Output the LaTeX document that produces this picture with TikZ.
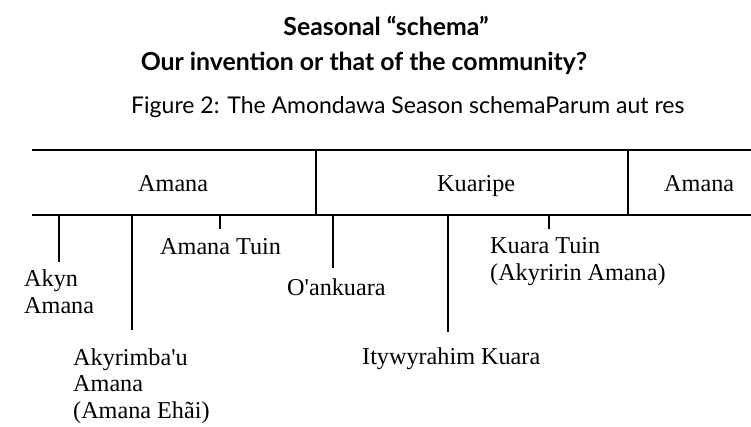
\documentclass[tikz,border=0pt]{standalone}
\usepackage{fontspec}
\setmainfont{Liberation Serif}
\newfontfamily\titlefont{Lato}
\begin{document}
\begin{tikzpicture}[x=1pt,y=-1pt,
  barln/.style={line width=2.3pt},
  tickln/.style={line width=2.2pt},
  lbl/.style={anchor=base west,inner sep=0pt,font=\fontsize{24.2}{26.5}\selectfont,align=left},
  ttl/.style={anchor=base,inner sep=0pt,font=\titlefont\bfseries\fontsize{24.8}{28}\selectfont},
  captxt/.style={anchor=base west,inner sep=0pt,font=\titlefont\fontsize{23}{26}\selectfont}]
\useasboundingbox (0,0) rectangle (751,426);
% titles
\node[ttl] (t1) at (386,35) {Seasonal “schema”};
\node[ttl] (t2) at (364,70) {Our invention or that of the community?};
\node[captxt] (cp) at (131,113) {Figure 2: The Amondawa Season schemaParum aut res};
% timeline
\draw[barln] (32,150) -- (751,150);
\draw[barln] (32,215) -- (751,215);
\draw[tickln] (316,150) -- (316,215);
\draw[tickln] (628,150) -- (628,215);
\node[lbl] (s1) at (138,191) {Amana};
\node[lbl] (s2) at (437,191) {Kuaripe};
\node[lbl] (s3) at (664,191) {Amana};
% ticks
\coordinate (k1) at (59,262);
\coordinate (k2) at (132,330);
\coordinate (k3) at (220,229);
\coordinate (k4) at (333,268);
\coordinate (k5) at (448,332);
\coordinate (k6) at (549,229);
\foreach \k in {k1,k2,k3,k4,k5,k6}
  \draw[tickln] (\k |- 0,215) -- (\k);
% labels (base anchor = last line's baseline)
\node[lbl] (a1) at (24,313) {Akyn\\Amana};
\node[lbl] (a2) at (73,418) {Akyrimba\textquotesingle u\\Amana\\(Amana Ehãi)};
\node[lbl] (a3) at (160,254) {Amana Tuin};
\node[lbl] (a4) at (287,295) {O\textquotesingle ankuara};
\node[lbl] (a5) at (362,364) {Itywyrahim Kuara};
\node[lbl] (a6) at (490,280) {Kuara Tuin\\(Akyririn Amana)};
\end{tikzpicture}
\end{document}
